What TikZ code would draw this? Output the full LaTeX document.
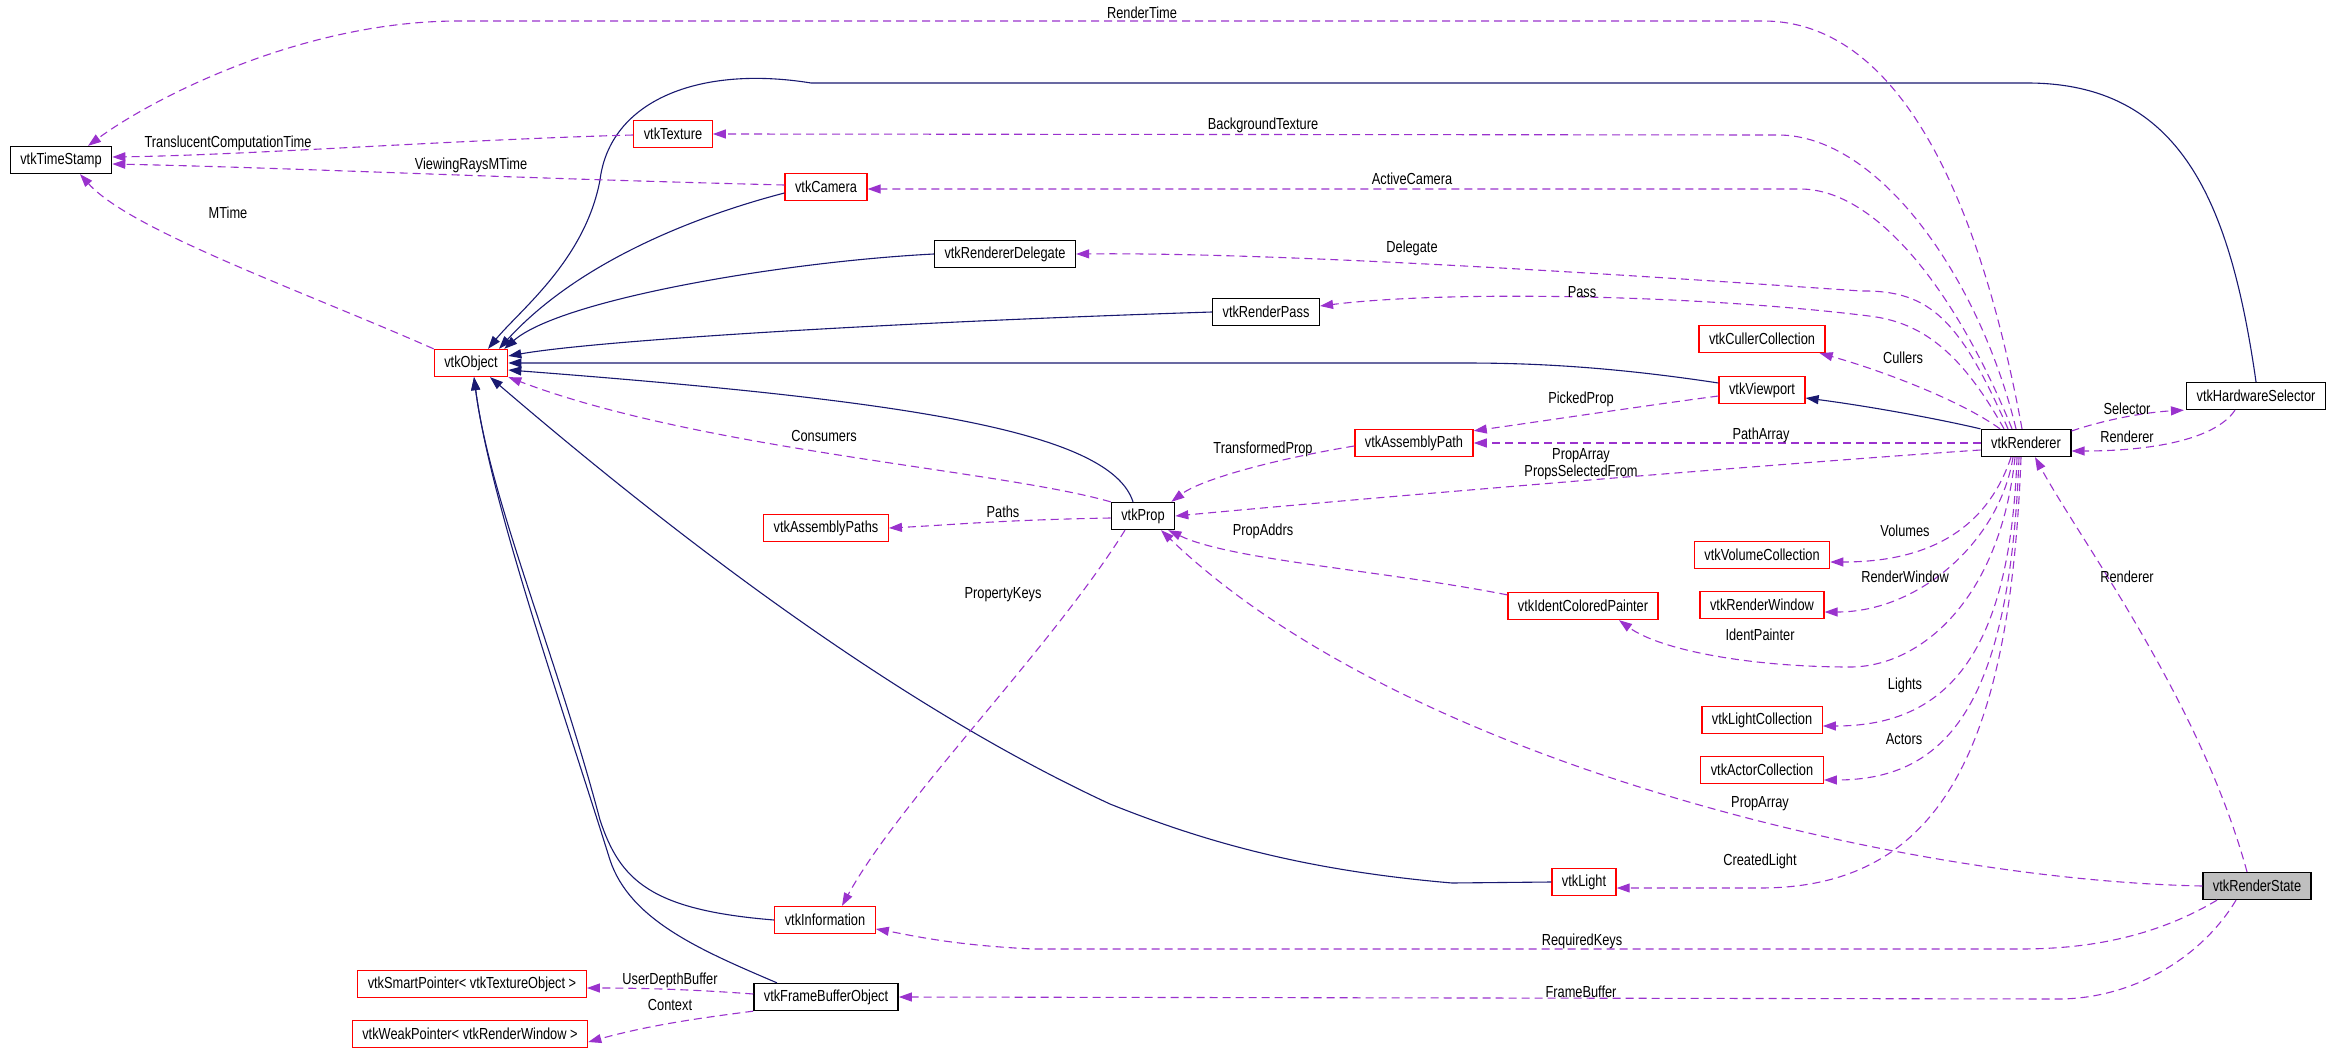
\documentclass[tikz,border=0pt]{standalone}
\usepackage{fontspec}
\setmainfont{Liberation Sans}[FakeStretch=0.8]
\usetikzlibrary{arrows.meta}
\definecolor{inh}{HTML}{191970}
\definecolor{use}{HTML}{9A32CD}
\begin{document}
\begin{tikzpicture}[x=1pt,y=-1pt,
  every node/.style={font=\fontsize{16}{18}\selectfont},
  cls/.style={draw=red,line width=1.3pt,inner xsep=10pt,inner ysep=0pt,minimum height=27pt,fill=white},
  clsb/.style={cls,draw=black},
  lbl/.style={inner sep=1pt},
  inhe/.style={draw=inh,line width=1.1pt,-{Triangle[length=13pt,width=9pt]}},
  usee/.style={draw=use,line width=1.1pt,dash pattern=on 8pt off 5pt,-{Triangle[length=13pt,width=9pt]}}]
\useasboundingbox (0,0) rectangle (2336,1064);
% nodes
\node[clsb] (ts) at (61,160) {vtkTimeStamp};
\node[cls] (tex) at (673,134) {vtkTexture};
\node[cls] (cam) at (826,187) {vtkCamera};
\node[clsb] (del) at (1005,254) {vtkRendererDelegate};
\node[cls] (obj) at (471,363) {vtkObject};
\node[clsb] (pass) at (1266,312) {vtkRenderPass};
\node[cls] (cull) at (1762,339) {vtkCullerCollection};
\node[cls] (vp) at (1762,390) {vtkViewport};
\node[cls] (ap) at (1414,443) {vtkAssemblyPath};
\node[clsb] (ren) at (2026,443) {vtkRenderer};
\node[clsb] (hws) at (2256,396) {vtkHardwareSelector};
\node[clsb] (prop) at (1143,516) {vtkProp};
\node[cls] (aps) at (826,528) {vtkAssemblyPaths};
\node[cls] (vol) at (1762,555) {vtkVolumeCollection};
\node[cls] (rw) at (1762,605) {vtkRenderWindow};
\node[cls] (icp) at (1583,606) {vtkIdentColoredPainter};
\node[cls] (lc) at (1762,720) {vtkLightCollection};
\node[cls] (ac) at (1762,770) {vtkActorCollection};
\node[cls] (light) at (1584,882) {vtkLight};
\node[clsb,fill={rgb,255:red,191;green,191;blue,191}] (rs) at (2257,886) {vtkRenderState};
\node[cls] (info) at (825,920) {vtkInformation};
\node[cls] (sp) at (472,984) {vtkSmartPointer< vtkTextureObject >};
\node[cls] (wp) at (470,1034) {vtkWeakPointer< vtkRenderWindow >};
\node[clsb] (fbo) at (826,997) {vtkFrameBufferObject};
% inheritance
\draw[inhe] (hws.north) .. controls (2230,200) and (2180,83) .. (2027,83) -- (811,83) .. controls (700,65) and (610,100) .. (600,180) .. controls (585,260) and (520,310) .. ([xshift=17pt]obj.north);
\draw[inhe] ([yshift=-6pt]cam.west) .. controls (700,215) and (580,260) .. ([xshift=28pt]obj.north);
\draw[inhe] (del.west) .. controls (780,262) and (560,300) .. ([xshift=-4pt]obj.north east);
\draw[inhe] (pass.west) .. controls (900,322) and (600,340) .. ([yshift=7pt]obj.east);
\draw[inhe] ([yshift=7pt]vp.west) .. controls (1600,365) and (1520,363) .. (1462,363) -- (obj.east);
\draw[inhe] ([xshift=-10pt]prop.north) .. controls (1110,430) and (900,400) .. ([yshift=-7pt]obj.east);
\draw[inhe] (info.west) .. controls (650,910) and (620,880) .. (600,820) .. controls (555,650) and (490,500) .. ([xshift=3pt]obj.south);
\draw[inhe] ([xshift=-49pt]fbo.north) .. controls (700,950) and (630,920) .. (610,860) .. controls (560,700) and (490,500) .. ([xshift=3pt]obj.south);
\draw[inhe] (light.west) -- (1452,883) .. controls (1300,870) and (1200,840) .. (1110,804) .. controls (950,730) and (750,600) .. ([xshift=19pt]obj.south);
\draw[inhe] (ren.north west) .. controls (1930,417) and (1860,405) .. ([yshift=-8pt]vp.east);
% usage
\draw[usee] ([xshift=-4pt]ren.north) .. controls (1980,200) and (1900,21) .. (1763,21) -- (459,21) .. controls (300,21) and (150,100) .. ([xshift=27pt]ts.north);
\draw[usee] ([yshift=-1pt]tex.west) .. controls (450,140) and (250,155) .. ([yshift=3pt]ts.east);
\draw[usee] ([yshift=2pt]cam.west) .. controls (500,178) and (300,168) .. ([yshift=-4pt]ts.east);
\draw[usee] (obj.north west) .. controls (300,290) and (130,230) .. ([xshift=19pt]ts.south);
\draw[usee] ([xshift=-10pt]ren.north) .. controls (1980,280) and (1880,135) .. (1778,135) -- (tex.east);
\draw[usee] ([xshift=-14pt]ren.north) .. controls (1960,300) and (1880,189) .. (1800,189) -- ([yshift=-2pt]cam.east);
\draw[usee] ([xshift=-18pt]ren.north) .. controls (1960,320) and (1930,290) .. (1861,291) .. controls (1700,280) and (1300,252) .. (del.east);
\draw[usee] ([xshift=-22pt]ren.north) .. controls (1960,350) and (1920,322) .. (1869,316) .. controls (1700,295) and (1450,290) .. ([yshift=6pt]pass.east);
\draw[usee] ([xshift=-26pt]ren.north) .. controls (1960,400) and (1880,370) .. ([xshift=-6pt]cull.south east);
\draw[usee] ([yshift=-6pt]vp.west) .. controls (1650,405) and (1550,420) .. ([yshift=-2pt]ap.north east);
\draw[usee] (ren.west) -- (ap.east);
\draw[usee] ([yshift=-7pt]ren.west) .. controls (1800,462) and (1400,495) .. (prop.east);
\draw[usee] ([yshift=-3pt]ap.west) .. controls (1270,460) and (1200,480) .. ([xshift=-4pt]prop.north east);
\draw[usee] (prop.north west) .. controls (1000,470) and (700,450) .. (obj.south east);
\draw[usee] ([yshift=-2pt]prop.west) .. controls (1000,520) and (950,525) .. (aps.east);
\draw[usee] ([xshift=-18pt]prop.south) .. controls (1050,650) and (900,800) .. ([xshift=17pt]info.north);
\draw[usee] ([yshift=-3pt]icp.north west) .. controls (1380,570) and (1230,560) .. ([xshift=-7pt]prop.south east);
\draw[usee] ([xshift=-15pt]ren.south) .. controls (1990,520) and (1940,562) .. ([yshift=-7pt]vol.east);
\draw[usee] ([xshift=-13pt]ren.south) .. controls (2000,540) and (1920,612) .. ([yshift=-7pt]rw.east);
\draw[usee] ([xshift=-11pt]ren.south) .. controls (2000,600) and (1920,667) .. (1850,667) .. controls (1750,667) and (1660,650) .. ([xshift=36pt]icp.south);
\draw[usee] ([xshift=-9pt]ren.south) .. controls (2010,650) and (1950,726) .. ([yshift=-6pt]lc.east);
\draw[usee] ([xshift=-7pt]ren.south) .. controls (2010,700) and (1950,780) .. ([yshift=-10pt]ac.east);
\draw[usee] ([xshift=-5pt]ren.south) .. controls (2010,750) and (1940,888) .. (1760,888) -- ([yshift=-6pt]light.east);
\draw[usee] ([yshift=12pt]ren.east) .. controls (2110,418) and (2150,412) .. ([xshift=-2pt]hws.south west);
\draw[usee] ([xshift=-21pt]hws.south) .. controls (2215,440) and (2150,451) .. ([yshift=-8pt]ren.east);
\draw[usee] ([xshift=-10pt]rs.north) .. controls (2200,700) and (2080,540) .. ([xshift=9pt]ren.south);
\draw[usee] (rs.west) .. controls (1900,880) and (1400,760) .. ([xshift=18pt]prop.south);
\draw[usee] ([xshift=-40pt]rs.south) .. controls (2150,940) and (2080,949) .. (2020,949) -- (1033,949) .. controls (950,945) and (910,935) .. ([yshift=-9pt]info.east);
\draw[usee] ([xshift=-21pt]rs.south) .. controls (2200,960) and (2130,999) .. (2058,999) -- (fbo.east);
\draw[usee] ([yshift=3pt]fbo.west) .. controls (700,990) and (650,988) .. ([yshift=-4pt]sp.east);
\draw[usee] (fbo.south west) .. controls (700,1018) and (650,1025) .. ([yshift=-8pt]wp.east);
% labels
\node[lbl] (l1) at (1142,13) {RenderTime};
\node[lbl] (l2) at (228,143) {TranslucentComputationTime};
\node[lbl] (l3) at (471,165) {ViewingRaysMTime};
\node[lbl] (l4) at (228,213) {MTime};
\node[lbl] (l5) at (824,436) {Consumers};
\node[lbl] (l6) at (1003,512) {Paths};
\node[lbl] (l7) at (1263,125) {BackgroundTexture};
\node[lbl] (l8) at (1412,179) {ActiveCamera};
\node[lbl] (l9) at (1412,248) {Delegate};
\node[lbl] (l10) at (1582,292) {Pass};
\node[lbl] (l11) at (1903,358) {Cullers};
\node[lbl] (l12) at (1581,399) {PickedProp};
\node[lbl] (l13) at (1761,435) {PathArray};
\node[lbl] (l14) at (1581,456) {PropArray};
\node[lbl] (l15) at (1581,472) {PropsSelectedFrom};
\node[lbl] (l16) at (1263,449) {TransformedProp};
\node[lbl] (l17) at (2127,409) {Selector};
\node[lbl] (l18) at (2127,437) {Renderer};
\node[lbl] (l19) at (1263,531) {PropAddrs};
\node[lbl] (l20) at (1905,531) {Volumes};
\node[lbl] (l21) at (1003,595) {PropertyKeys};
\node[lbl] (l22) at (670,980) {UserDepthBuffer};
\node[lbl] (l23) at (670,1005) {Context};
\node[lbl] (l24) at (1905,577) {RenderWindow};
\node[lbl] (l25) at (1760,635) {IdentPainter};
\node[lbl] (l26) at (1905,685) {Lights};
\node[lbl] (l27) at (1904,739) {Actors};
\node[lbl] (l28) at (1760,804) {PropArray};
\node[lbl] (l29) at (1760,861) {CreatedLight};
\node[lbl] (l30) at (1582,941) {RequiredKeys};
\node[lbl] (l31) at (1581,992) {FrameBuffer};
\node[lbl] (l32) at (2127,577) {Renderer};
\end{tikzpicture}
\end{document}
